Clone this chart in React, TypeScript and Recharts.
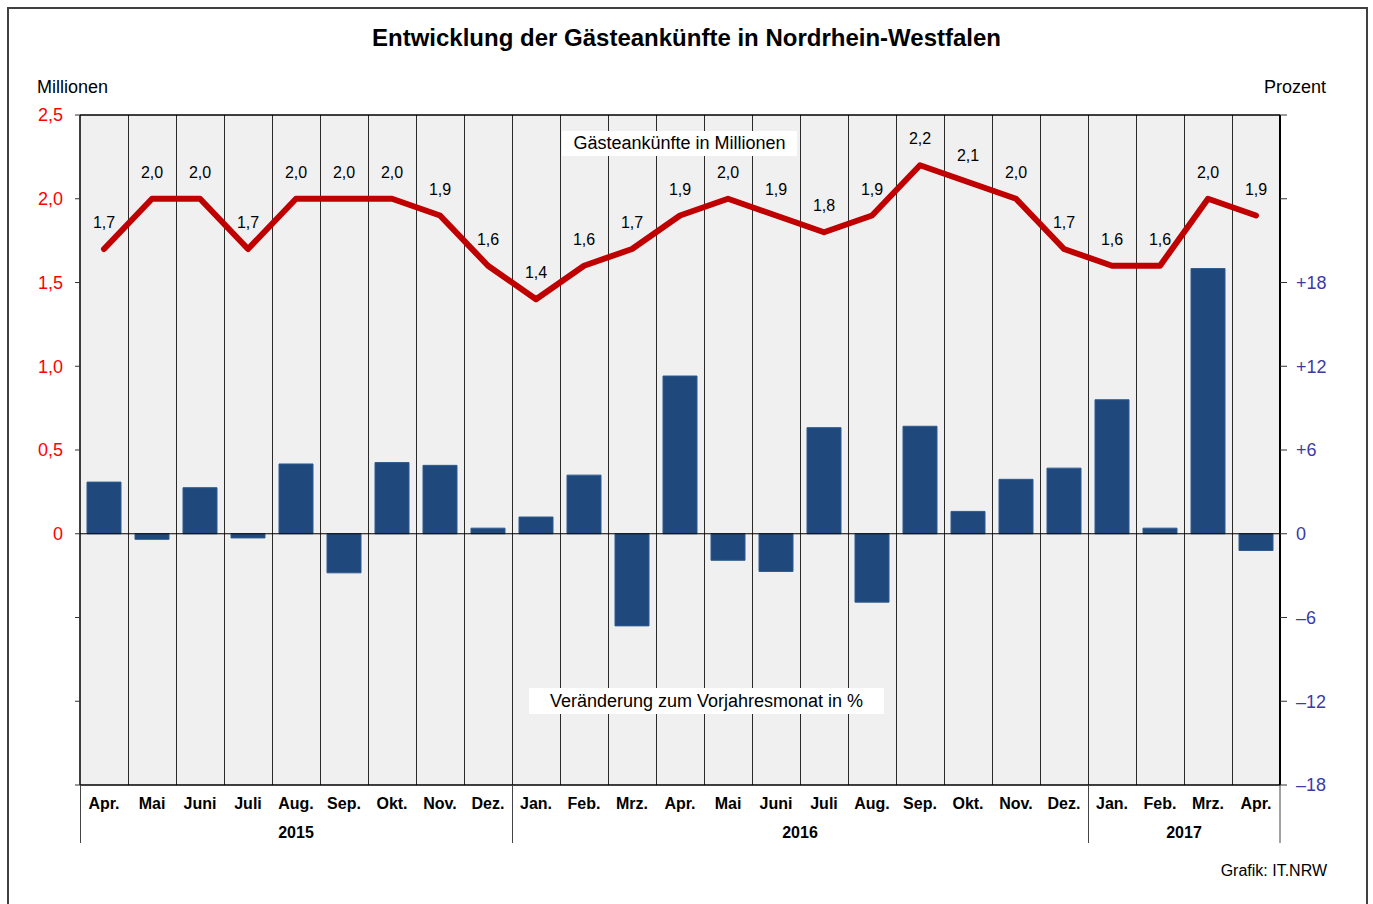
import React from 'react';
import {
  ComposedChart,
  Bar,
  Line,
  XAxis,
  YAxis,
  CartesianGrid,
  ReferenceLine,
  LabelList,
} from 'recharts';

const months = [
  'Apr.', 'Mai', 'Juni', 'Juli', 'Aug.', 'Sep.', 'Okt.', 'Nov.', 'Dez.',
  'Jan.', 'Feb.', 'Mrz.', 'Apr.', 'Mai', 'Juni', 'Juli', 'Aug.', 'Sep.', 'Okt.', 'Nov.', 'Dez.',
  'Jan.', 'Feb.', 'Mrz.', 'Apr.',
];
const years = [
  '2015', '2015', '2015', '2015', '2015', '2015', '2015', '2015', '2015',
  '2016', '2016', '2016', '2016', '2016', '2016', '2016', '2016', '2016', '2016', '2016', '2016',
  '2017', '2017', '2017', '2017',
];
// Gästeankünfte in Millionen
const arrivals = [
  1.7, 2.0, 2.0, 1.7, 2.0, 2.0, 2.0, 1.9, 1.6,
  1.4, 1.6, 1.7, 1.9, 2.0, 1.9, 1.8, 1.9, 2.2, 2.1, 2.0, 1.7,
  1.6, 1.6, 2.0, 1.9,
];
// Veränderung zum Vorjahresmonat in %
const change = [
  3.7, -0.4, 3.3, -0.3, 5.0, -2.8, 5.1, 4.9, 0.4,
  1.2, 4.2, -6.6, 11.3, -1.9, -2.7, 7.6, -4.9, 7.7, 1.6, 3.9, 4.7,
  9.6, 0.4, 19.0, -1.2,
];
const leftTicks = [-1.5, -1, -0.5, 0, 0.5, 1, 1.5, 2, 2.5];
const rightTicks = [-18, -12, -6, 0, 6, 12, 18, 24, 30];

const data = months.map((m, i) => ({
  key: String(i),
  month: m,
  year: years[i],
  mio: arrivals[i],
  pct: change[i],
}));

const FONT = "Arial, 'Liberation Sans', Helvetica, sans-serif";

const fmtLeft = (v: number) => (v < 0 ? '' : v === 0 ? '0' : v.toFixed(1).replace('.', ','));
const fmtRight = (v: number) =>
  v > 18 ? '' : v > 0 ? '+' + v : v < 0 ? '\u2013' + Math.abs(v) : '0';

function MonthTick(props: any) {
  const { x, y, payload, width } = props;
  const i: number = payload.index;
  const n = months.length;
  const half = typeof width === 'number' && width > 0 ? width / n / 2 : 24;
  const year = years[i];
  const isFirst = i === 0 || years[i - 1] !== year;
  const isLast = i === n - 1;
  let count = 0;
  if (isFirst) {
    let j = i;
    while (j < n && years[j] === year) {
      count++;
      j++;
    }
  }
  return (
    <g>
      <text x={x} y={y + 24} textAnchor="middle" fontWeight="bold" fontSize={16} fill="#000">
        {months[i]}
      </text>
      {isFirst && <line x1={x - half + 0.5} x2={x - half + 0.5} y1={y} y2={y + 58} stroke="#444" strokeWidth={1} />}
      {isFirst && (
        <text x={x - half + count * half} y={y + 53} textAnchor="middle" fontWeight="bold" fontSize={16} fill="#000">
          {year}
        </text>
      )}
      {isLast && <line x1={x + half} x2={x + half} y1={y} y2={y + 58} stroke="#444" strokeWidth={1} />}
    </g>
  );
}

const gridGen = (p: any) => {
  const off = p.offset;
  const n = months.length;
  const res: number[] = [];
  for (let i = 1; i < n; i++) res.push(off.left + (i * off.width) / n + 0.5);
  return res;
};

export default function App() {
  return (
    <div
      style={{
        position: 'absolute',
        left: 0,
        top: 0,
        width: 1373,
        height: 904,
        overflow: 'hidden',
        background: '#fff',
        fontFamily: FONT,
      }}
    >
      <div
        style={{
          position: 'absolute',
          left: 7,
          top: 7,
          width: 1361,
          height: 897,
          boxSizing: 'border-box',
          borderTop: '2px solid #404040',
          borderLeft: '2px solid #404040',
          borderRight: '2px solid #404040',
        }}
      />
      <div
        style={{
          position: 'absolute',
          left: 0,
          top: 24,
          width: 1373,
          textAlign: 'center',
          fontWeight: 'bold',
          fontSize: 24,
          color: '#000',
        }}
      >
        Entwicklung der Gästeankünfte in Nordrhein-Westfalen
      </div>
      <div style={{ position: 'absolute', left: 37, top: 77, fontSize: 18, color: '#000' }}>Millionen</div>
      <div style={{ position: 'absolute', right: 47, top: 77, fontSize: 18, color: '#000' }}>Prozent</div>
      <div style={{ position: 'absolute', left: 0, top: 0 }}>
        <ComposedChart
          width={1373}
          height={904}
          data={data}
          margin={{ top: 115, right: 33, bottom: 59, left: 20 }}
        >
          <CartesianGrid
            yAxisId="left"
            horizontal={false}
            vertical={true}
            fill="#f0f0f0"
            stroke="#2a2a2a"
            strokeWidth={1}
            verticalCoordinatesGenerator={gridGen}
          />
          <XAxis
            dataKey="key"
            type="category"
            height={60}
            interval={0}
            tickSize={0}
            tickMargin={0}
            tickLine={false}
            axisLine={{ stroke: '#000', strokeWidth: 1.5 }}
            tick={<MonthTick />}
          />
          <YAxis
            yAxisId="left"
            orientation="left"
            width={60}
            domain={[-1.5, 2.5]}
            ticks={leftTicks}
            interval={0}
            tickFormatter={fmtLeft}
            tickSize={5}
            tickMargin={12}
            axisLine={{ stroke: '#000', strokeWidth: 1.5 }}
            tickLine={{ stroke: '#333' }}
            tick={{ fill: '#ff0000', fontSize: 18 }}
          />
          <YAxis
            yAxisId="right"
            orientation="right"
            width={60}
            domain={[-18, 30]}
            ticks={rightTicks}
            interval={0}
            tickFormatter={fmtRight}
            tickSize={7}
            tickMargin={9}
            axisLine={{ stroke: '#000', strokeWidth: 2 }}
            tickLine={{ stroke: '#333' }}
            tick={{ fill: '#3b3ba3', fontSize: 18 }}
          />
          <ReferenceLine yAxisId="left" y={2.5} stroke="#000" strokeWidth={1.5} />
          <Bar
            yAxisId="right"
            dataKey="pct"
            barSize={34}
            fill="#1f497d"
            stroke="#2d5a8c"
            strokeWidth={1}
            isAnimationActive={false}
          />
          <ReferenceLine yAxisId="left" y={0} stroke="#000" strokeWidth={1.2} />
          <Line
            yAxisId="left"
            dataKey="mio"
            type="linear"
            stroke="#c00000"
            strokeWidth={6}
            strokeLinecap="round"
            strokeLinejoin="round"
            dot={false}
            activeDot={false}
            isAnimationActive={false}
          >
            <LabelList
              dataKey="mio"
              position="top"
              offset={21}
              formatter={(v: any) => Number(v).toFixed(1).replace('.', ',')}
              fill="#000"
              fontSize={16}
            />
          </Line>
        </ComposedChart>
      </div>
      <div
        style={{
          position: 'absolute',
          left: 562,
          top: 131,
          width: 235,
          height: 25,
          lineHeight: '25px',
          background: '#fff',
          textAlign: 'center',
          fontSize: 18,
          color: '#000',
        }}
      >
        Gästeankünfte in Millionen
      </div>
      <div
        style={{
          position: 'absolute',
          left: 529,
          top: 688,
          width: 355,
          height: 26,
          lineHeight: '26px',
          background: '#fff',
          textAlign: 'center',
          fontSize: 18,
          color: '#000',
        }}
      >
        Veränderung zum Vorjahresmonat in %
      </div>
      <div style={{ position: 'absolute', right: 46, top: 862, fontSize: 16, color: '#000' }}>Grafik: IT.NRW</div>
    </div>
  );
}
